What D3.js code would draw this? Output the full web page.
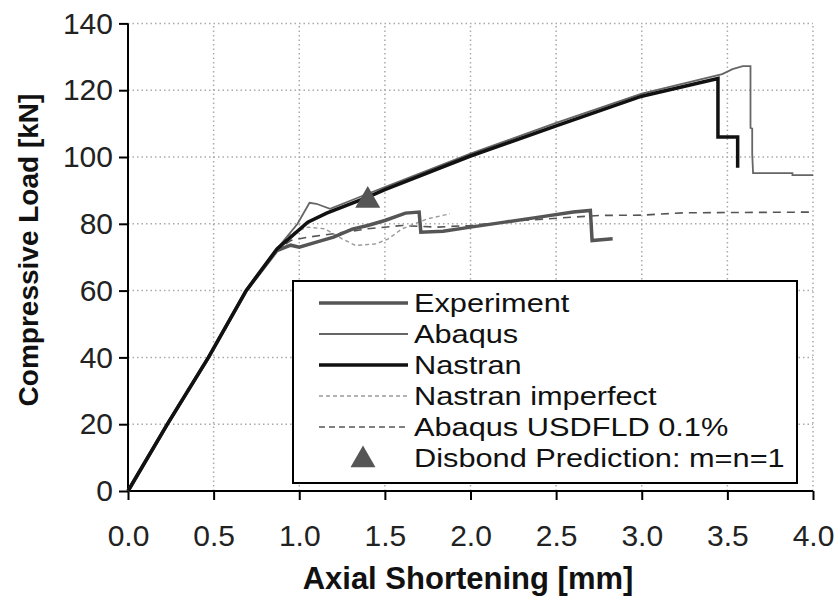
<!DOCTYPE html>
<html>
<script src="https://d3js.org/d3.v7.min.js"></script>

<head>
    <style>
        body {
            margin: 0;
            background-color: white;
            font-family: "Liberation Sans", Arial, Helvetica, sans-serif;
        }

        svg {
            display: block;
        }
    </style>
</head>

<body>
</body>
<script>
    const width = 837,
        height = 596;

    // [axial shortening mm, load kN]
    const experiment = [[0, 0], [0.23, 20], [0.47, 40], [0.69, 60], [0.87, 72], [0.95, 73.6], [1.0, 73],
    [1.1, 74.5], [1.2, 76], [1.31, 78.4], [1.4, 79.5], [1.5, 81], [1.62, 83.2], [1.7, 83.5], [1.71, 77.5],
    [1.84, 77.8], [2.0, 79], [2.2, 80.5], [2.4, 82], [2.6, 83.5], [2.7, 84], [2.71, 75], [2.83, 75.5]];
    const abaqus = [[0, 0], [0.23, 20], [0.47, 40], [0.69, 60], [0.87, 72.5], [0.99, 80], [1.06, 86.3],
    [1.1, 86], [1.18, 84.5], [1.4, 89], [1.5, 91], [2.0, 101], [2.5, 110.2], [3.0, 119], [3.47, 124.8],
    [3.53, 126.3], [3.59, 127.2], [3.635, 127.2], [3.635, 108.7], [3.645, 108.5], [3.645, 101],
    [3.65, 95.2], [3.88, 95.2], [3.88, 94.6], [4.0, 94.6]];
    const nastran = [[0, 0], [0.23, 20], [0.47, 40], [0.69, 60], [0.87, 72.5], [0.95, 76], [1.05, 80.5],
    [1.16, 83.2], [1.4, 88], [1.5, 90.2], [2.0, 100.3], [2.5, 109.3], [3.0, 118.2], [3.445, 123.5],
    [3.445, 106], [3.56, 106], [3.56, 96.8]];
    const nastranImperfect = [[0, 0], [0.23, 20], [0.47, 40], [0.69, 60], [0.87, 72.5], [0.95, 77],
    [1.05, 79], [1.15, 78.5], [1.25, 75.5], [1.33, 73.5], [1.45, 74], [1.52, 75.5], [1.6, 78.5],
    [1.75, 81.5], [1.88, 83]];
    const abaqusUsdfld = [[0, 0], [0.23, 20], [0.47, 40], [0.69, 60], [0.87, 72], [0.95, 75], [1.05, 76],
    [1.2, 77], [1.4, 78.5], [1.6, 79.5], [1.8, 79], [2.0, 79.5], [2.3, 81], [2.6, 82], [2.75, 82.5],
    [3.0, 82.6], [3.25, 83.3], [4.0, 83.5]];
    const disbond = [[1.4, 87]];

    const xTicks = [0, 0.5, 1, 1.5, 2, 2.5, 3, 3.5, 4];
    const yTicks = [0, 20, 40, 60, 80, 100, 120, 140];

    const svg = d3.select("body").append("svg").attr("width", width).attr("height", height);

    const x = d3.scaleLinear().domain([0, 4]).range([128, 813]);
    const y = d3.scaleLinear().domain([0, 140]).range([491, 23.4]);

    // dotted grid
    svg.append("g")
        .selectAll("line")
        .data(xTicks.slice(1))
        .join("line")
        .attr("x1", d => x(d)).attr("x2", d => x(d))
        .attr("y1", y(0)).attr("y2", y(140))
        .attr("stroke", "#aaa")
        .attr("stroke-width", 1.5)
        .attr("stroke-dasharray", "1.5,3");
    svg.append("g")
        .selectAll("line")
        .data(yTicks.slice(1))
        .join("line")
        .attr("x1", x(0)).attr("x2", x(4))
        .attr("y1", d => y(d)).attr("y2", d => y(d))
        .attr("stroke", "#aaa")
        .attr("stroke-width", 1.5)
        .attr("stroke-dasharray", "1.5,3");

    // axes
    const xAxis = svg.append("g")
        .attr("transform", `translate(0,${y(0)})`)
        .call(d3.axisBottom(x).tickValues(xTicks).tickFormat(d3.format(".1f")).tickSize(9).tickPadding(25));
    const yAxis = svg.append("g")
        .attr("transform", `translate(${x(0)},0)`)
        .call(d3.axisLeft(y).tickValues(yTicks).tickSize(9).tickPadding(6));
    [xAxis, yAxis].forEach(g => {
        g.select(".domain").attr("stroke", "black").attr("stroke-width", 2);
        g.selectAll(".tick line").attr("stroke", "black").attr("stroke-width", 2);
        g.selectAll(".tick text")
            .attr("fill", "#222")
            .style("font-family", "'Liberation Sans', Arial, sans-serif")
            .style("font-size", "30px");
    });
    xAxis.select(".domain").attr("d", `M${x(0)},0H${x(4)}`);
    yAxis.select(".domain").attr("d", `M0,${y(0)}V${y(140)}`);

    // axis titles
    svg.append("text")
        .attr("x", 468)
        .attr("y", 578)
        .attr("text-anchor", "middle")
        .attr("dominant-baseline", "central")
        .attr("font-weight", "bold")
        .attr("font-size", 31)
        .attr("fill", "#111")
        .text("Axial Shortening [mm]");
    svg.append("text")
        .attr("transform", "translate(28,250) rotate(-90)")
        .attr("text-anchor", "middle")
        .attr("dominant-baseline", "central")
        .attr("font-weight", "bold")
        .attr("font-size", 28)
        .attr("fill", "#111")
        .text("Compressive Load [kN]");

    const line = d3.line().x(d => x(d[0])).y(d => y(d[1]));

    const series = [
        { name: "Abaqus USDFLD 0.1%", data: abaqusUsdfld, color: "#555", width: 1.6, dash: "8,6" },
        { name: "Nastran imperfect", data: nastranImperfect, color: "#999", width: 1.4, dash: "4,3" },
        { name: "Experiment", data: experiment, color: "#555", width: 3.5, dash: null },
        { name: "Abaqus", data: abaqus, color: "#666", width: 1.8, dash: null },
        { name: "Nastran", data: nastran, color: "#111", width: 3.5, dash: null }
    ];

    svg.append("g")
        .selectAll("path")
        .data(series)
        .join("path")
        .attr("d", d => line(d.data))
        .attr("fill", "none")
        .attr("stroke", d => d.color)
        .attr("stroke-width", d => d.width)
        .attr("stroke-dasharray", d => d.dash);

    const triangle = d3.symbol(d3.symbolTriangle, 270);
    svg.append("g")
        .selectAll("path")
        .data(disbond)
        .join("path")
        .attr("transform", d => `translate(${x(d[0])},${y(d[1])})`)
        .attr("d", triangle)
        .attr("fill", "#555");

    // legend
    const legend = svg.append("g");
    legend.append("rect")
        .attr("x", 293).attr("y", 281)
        .attr("width", 504).attr("height", 202)
        .attr("fill", "white")
        .attr("stroke", "black")
        .attr("stroke-width", 2);

    const legendItems = [
        { name: "Experiment", color: "#555", width: 3.5, dash: null },
        { name: "Abaqus", color: "#666", width: 1.8, dash: null },
        { name: "Nastran", color: "#111", width: 3.5, dash: null },
        { name: "Nastran imperfect", color: "#999", width: 1.4, dash: "4,3" },
        { name: "Abaqus USDFLD 0.1%", color: "#555", width: 1.6, dash: "6,4" },
        { name: "Disbond Prediction: m=n=1", marker: true }
    ];
    const rowY = d3.scalePoint().domain(legendItems.map(d => d.name)).range([303, 458]);

    legendItems.forEach(d => {
        const yy = rowY(d.name);
        if (d.marker) {
            legend.append("path")
                .attr("transform", `translate(363,${yy + 2})`)
                .attr("d", triangle)
                .attr("fill", "#555");
        } else {
            legend.append("line")
                .attr("x1", 319).attr("x2", 408)
                .attr("y1", yy).attr("y2", yy)
                .attr("stroke", d.color)
                .attr("stroke-width", d.width)
                .attr("stroke-dasharray", d.dash);
        }
        // text stretched sideways so the rows stay tight like the original
        legend.append("text")
            .attr("transform", `translate(414,${yy}) scale(1.16,1)`)
            .attr("dominant-baseline", "central")
            .attr("font-size", 26.5)
            .attr("fill", "#111")
            .text(d.name);
    });
</script>

</html>
